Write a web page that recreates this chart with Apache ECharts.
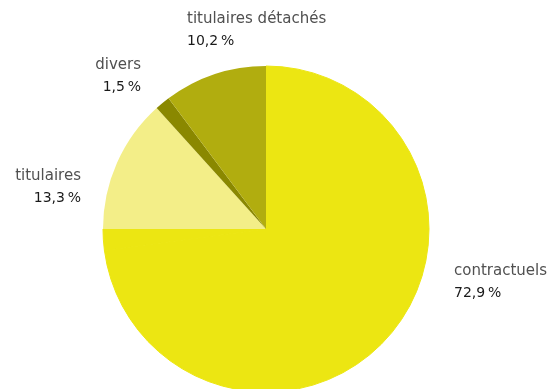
<!DOCTYPE html>
<html>
<head>
<meta charset="utf-8">
<script src="https://cdn.jsdelivr.net/npm/echarts@6/dist/echarts.min.js"></script>
<style>
  html, body { margin: 0; padding: 0; background: #fff; }
  #chart { width: 551px; height: 389px; }
</style>
</head>
<body>
<div id="chart"></div>
<script>
// Répartition des effectifs par statut (% du total)
const categories = ['contractuels', 'titulaires', 'divers', 'titulaires détachés'];
const values = [72.9, 13.3, 1.5, 10.2];
const colors = ['#ECE612', '#F3EE88', '#8A8800', '#B1AD0F'];

// Part non ventilée : complète le total à 100 %, tracée dans la couleur des contractuels
const unassigned = +(100 - values.reduce((a, b) => a + b, 0)).toFixed(1);

// Label anchors per category: [x, y, align]
const labelSpots = {
  'contractuels': [454, 260, 'left'],
  'titulaires': [81, 165, 'right'],
  'divers': [141, 54, 'right'],
  'titulaires détachés': [187, 8, 'left']
};

const fmt = v => v.toFixed(1).replace('.', ',') + '\u2009%';

const data = categories.map((c, i) => ({
  name: c,
  value: values[i],
  itemStyle: { color: colors[i] }
}));
// the unassigned share sits next to the contractuels wedge, same fill and seamless
data[0].itemStyle.borderColor = colors[0];
data[0].itemStyle.borderWidth = 1;
data.splice(1, 0, {
  name: 'non ventilé',
  value: unassigned,
  itemStyle: { color: colors[0], borderColor: colors[0], borderWidth: 1 },
  label: { show: false }
});

const chart = echarts.init(document.getElementById('chart'), null, { renderer: 'canvas' });
chart.setOption({
  animation: false,
  series: [{
    type: 'pie',
    center: [266, 229],
    radius: [0, 163],
    startAngle: 90,
    clockwise: true,
    silent: true,
    data: data,
    label: {
      show: true,
      position: 'outside',
      overflow: 'none',
      width: 300,
      formatter: p => '{n|' + p.name + '}\n{v|' + fmt(p.value) + '}',
      rich: {
        n: { fontFamily: 'DejaVu Sans', fontSize: 15, color: '#505050', lineHeight: 22 },
        v: { fontFamily: 'DejaVu Sans', fontSize: 14, color: '#1a1a1a', lineHeight: 22 }
      }
    },
    labelLine: { show: false },
    labelLayout: p => {
      const s = labelSpots[data[p.dataIndex].name];
      if (!s) return {};
      return { x: s[0], y: s[1], align: s[2], verticalAlign: 'top' };
    }
  }]
});
</script>
</body>
</html>
